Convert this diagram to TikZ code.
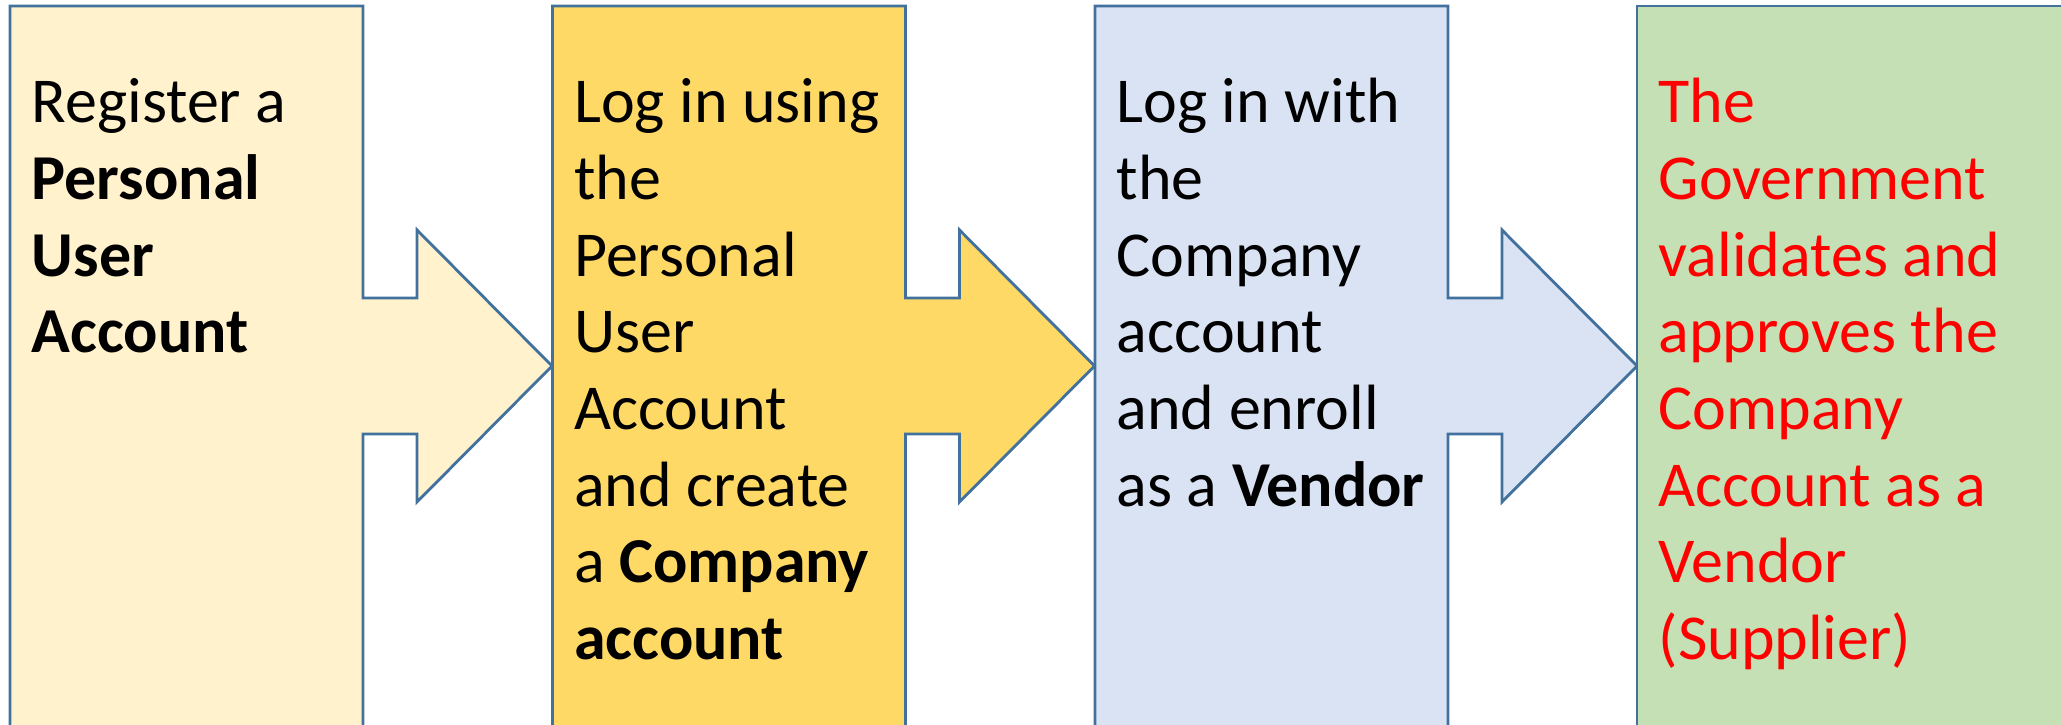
\documentclass[tikz,border=0pt]{standalone}
\usepackage{fontspec}
\setmainfont{Carlito}
\usepackage{tikz}
\usetikzlibrary{calc}

\definecolor{edgeblue}{HTML}{41719C}
\definecolor{stepone}{HTML}{FFF2CC}
\definecolor{steptwo}{HTML}{FFD966}
\definecolor{stepthree}{HTML}{DAE3F3}
\definecolor{stepfour}{HTML}{C5E0B4}
\definecolor{govred}{HTML}{FF0000}

\tikzset{
  callout/.style={draw=edgeblue,line width=0.8pt,line join=miter},
  steptext/.style={anchor=base west,align=flush left,inner sep=0pt,text width=4.3cm,
    font=\fontsize{18.2}{21.8}\selectfont}
}

\begin{document}
\begin{tikzpicture}[x=0.01cm,y=0.01cm]
    \useasboundingbox (0,0) rectangle (2061,725);
    \clip (0,0) rectangle (2061,725);

    % three boxes with an arrow on the right
    \foreach \i/\col in {0/stepone,1/steptwo,2/stepthree}
    {
      \draw [callout,fill=\col] ($(10,0)+(542.5*\i,0)$) coordinate (b\i)
        (b\i) ++(0,-40) -- ++(0,759) -- ++(353,0) -- ++(0,-292) -- ++(54,0)
        -- ++(0,68) -- ++(135,-136) -- ++(-135,-136) -- ++(0,68) -- ++(-54,0)
        -- ++(0,-331) -- cycle;
    }

    % last box, no arrow
    \draw [callout,fill=stepfour] (1637,-40) rectangle (2100,719);

    \node [steptext] (reg) at (31,602) {Register a\\ \textbf{Personal}\\ \textbf{User}\\ \textbf{Account}};
    \node [steptext] (login) at (573.5,602) {Log in using\\ the\\ Personal\\ User\\ Account\\ and create\\ a \textbf{Company}\\ \textbf{account}};
    \node [steptext] (enroll) at (1116,602) {Log in with\\ the\\ Company\\ account\\ and enroll\\ as a \textbf{Vendor}};
    \node [steptext,text=govred] (approve) at (1658,602) {The\\ Government\\ validates and\\ approves the\\ Company\\ Account as a\\ Vendor\\ (Supplier)};

  \end{tikzpicture}
\end{document}
